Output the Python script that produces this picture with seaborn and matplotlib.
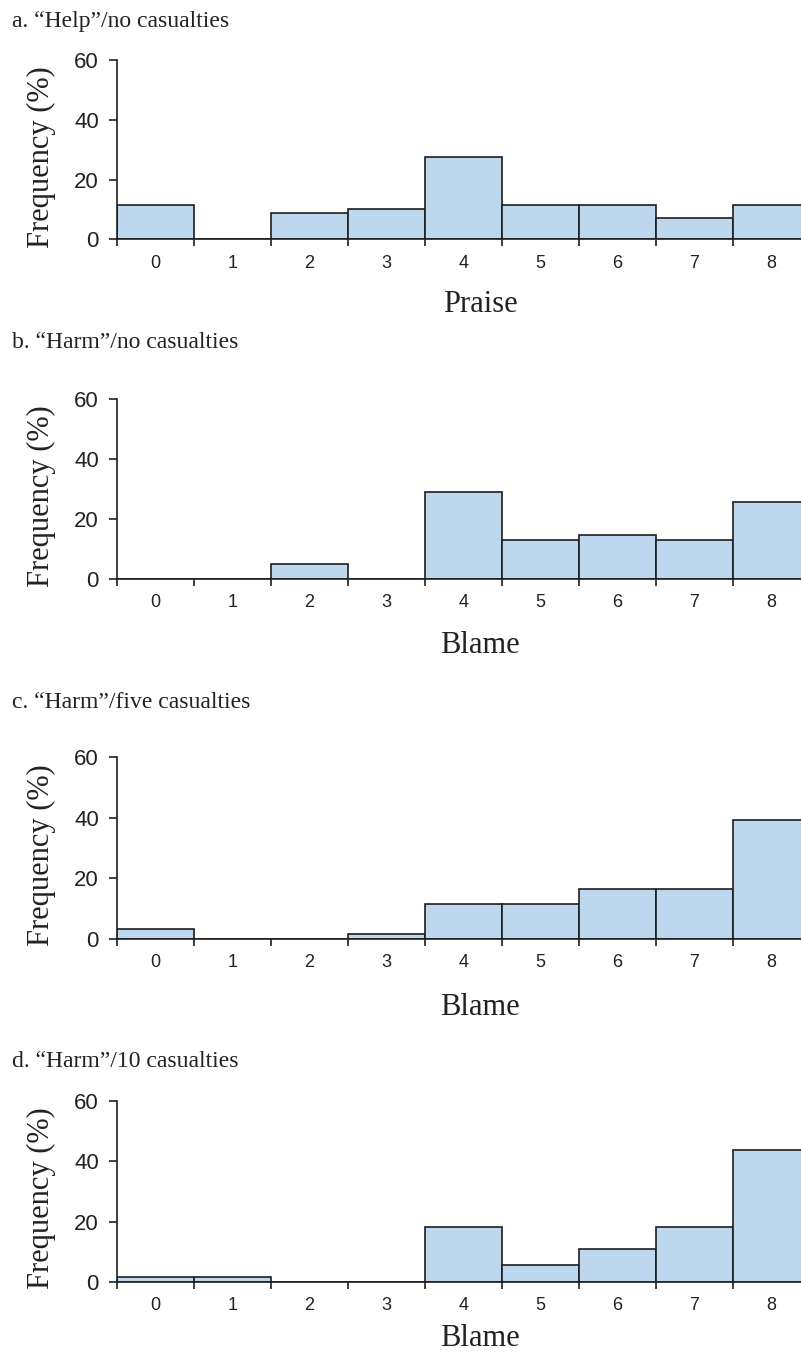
import pandas as pd
import matplotlib.pyplot as plt
import seaborn as sns

# Config
OUT_FILE = 'out.png'
BAR_COLOR = '#bdd7ee'
EDGE_COLOR = '#1e1e1e'

# Data (percent of respondents per rating)
SCORES = [0, 1, 2, 3, 4, 5, 6, 7, 8]
help_none = [11.6, 0, 8.7, 10.1, 27.5, 11.6, 11.6, 7.2, 11.6]
harm_none = [0, 0, 4.8, 0, 29.0, 12.9, 14.5, 12.9, 25.8]
harm_five = [3.3, 0, 0, 1.6, 11.5, 11.5, 16.4, 16.4, 39.3]
harm_ten = [1.8, 1.8, 0, 0, 18.2, 5.5, 10.9, 18.2, 43.6]

TITLES = ['a. \u201cHelp\u201d/no casualties', 'b. \u201cHarm\u201d/no casualties',
          'c. \u201cHarm\u201d/five casualties', 'd. \u201cHarm\u201d/10 casualties']
XLABELS = ['Praise', 'Blame', 'Blame', 'Blame']
YLABEL = 'Frequency (%)'
PANELS = [help_none, harm_none, harm_five, harm_ten]

# Layout (pixels in the 801x1354 figure)
W, H = 801, 1354
AX_LEFT = 117
AX_RIGHT = 810            # last bar runs off the right edge
ZERO_Y = [239.3, 578.7, 938.7, 1282.0]
TOP_Y = [60.0, 399.3, 757.3, 1100.7]
TITLE_BASE = [27, 348, 708, 1067]
XLABEL_BASE = [311.7, 653.3, 1015, 1346]

SERIF = ['Liberation Serif', 'DejaVu Serif']
SANS = ['Liberation Sans', 'DejaVu Sans']


def draw_panel(fig, i, values):
    bottom = 1 - ZERO_Y[i] / H
    height = (ZERO_Y[i] - TOP_Y[i]) / H
    ax = fig.add_axes([AX_LEFT / W, bottom, (AX_RIGHT - AX_LEFT) / W, height])
    df = pd.DataFrame({'score': SCORES, 'pct': values})
    sns.barplot(data=df, x='score', y='pct', order=SCORES, width=1.0,
                color=BAR_COLOR, saturation=1, edgecolor=EDGE_COLOR,
                linewidth=1.2, ax=ax)
    ax.set_xlim(-0.5, 8.5)
    ax.set_ylim(0, 60)
    ax.set_yticks([0, 20, 40, 60])
    sns.despine(ax=ax)
    for side in ['left', 'bottom']:
        ax.spines[side].set_linewidth(1.2)
        ax.spines[side].set_color(EDGE_COLOR)

    # category labels at bar centres, tick marks at bar edges
    ax.set_xticks(range(len(SCORES)))
    ax.set_xticklabels([str(s) for s in SCORES], fontfamily=SANS, fontsize=13)
    ax.set_xticks([s - 0.5 for s in SCORES] + [8.5], minor=True)
    ax.tick_params(axis='x', which='major', length=0, pad=11, colors='#222222')
    ax.tick_params(axis='x', which='minor', length=5, width=1.2, direction='out',
                   color=EDGE_COLOR)
    ax.tick_params(axis='y', length=6, width=1.2, pad=7, colors='#222222',
                   labelsize=16)
    for lab in ax.get_yticklabels():
        lab.set_fontfamily(SANS)

    ax.set_ylabel(YLABEL, fontfamily=SERIF, fontsize=22, color='#222222')
    ax.yaxis.set_label_coords(-0.088, 0.46)
    ax.set_xlabel(XLABELS[i], fontfamily=SERIF, fontsize=22, color='#222222')
    ax.xaxis.label.set_va('baseline')
    ax.xaxis.set_label_coords((480 - AX_LEFT) / (AX_RIGHT - AX_LEFT),
                              -(XLABEL_BASE[i] - ZERO_Y[i]) / (ZERO_Y[i] - TOP_Y[i]))

    fig.text(12 / W, 1 - TITLE_BASE[i] / H, TITLES[i], fontfamily=SERIF,
             fontsize=17, color='#222222', ha='left', va='baseline')


def main():
    sns.set_style('ticks')
    fig = plt.figure(figsize=(W / 100, H / 100), dpi=100)
    for i, values in enumerate(PANELS):
        draw_panel(fig, i, values)
    fig.savefig(OUT_FILE, dpi=100)
    plt.close(fig)


if __name__ == '__main__':
    main()
